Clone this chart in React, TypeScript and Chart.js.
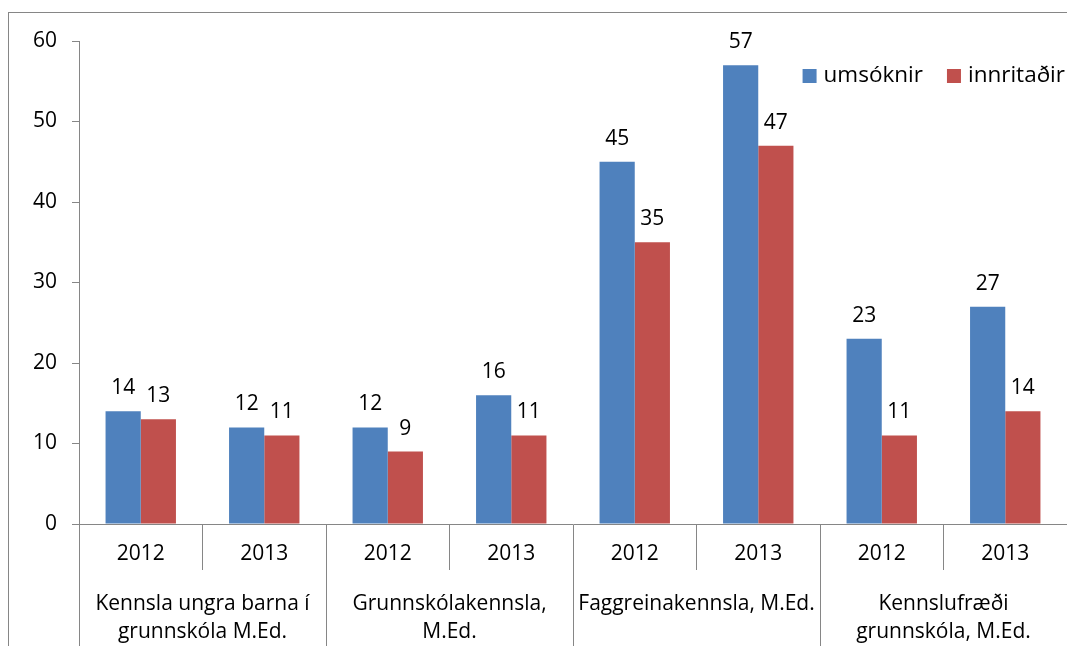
import React, { useEffect, useRef } from "react";
import { Chart, registerables } from "chart.js";

Chart.register(...registerables);

const years = ["2012", "2013", "2012", "2013", "2012", "2013", "2012", "2013"];
const groups: string[][] = [
  ["Kennsla ungra barna í", "grunnskóla M.Ed."],
  ["Grunnskólakennsla,", "M.Ed."],
  ["Faggreinakennsla, M.Ed."],
  ["Kennslufræði", "grunnskóla, M.Ed."],
];
const umsoknir = [14, 12, 12, 16, 45, 57, 23, 27];
const innritadir = [13, 11, 9, 11, 35, 47, 11, 14];
const seriesNames = ["umsóknir", "innritaðir"];
const yTicks = { min: 0, max: 60, step: 10 };

const FONT_FAMILY = "'Open Sans', 'Liberation Sans', sans-serif";
const FONT_SIZE = 21;
const LEGEND_FONT_SIZE = 22.5;
const AXIS_COLOR = "#868686";

const dataLabelPlugin = {
  id: "dataLabels",
  afterDatasetsDraw(chart: any) {
    const ctx = chart.ctx;
    ctx.save();
    ctx.font = `${FONT_SIZE}px ${FONT_FAMILY}`;
    ctx.fillStyle = "#000";
    ctx.textAlign = "center";
    ctx.textBaseline = "middle";
    chart.data.datasets.forEach((ds: any, i: number) => {
      const meta = chart.getDatasetMeta(i);
      meta.data.forEach((el: any, j: number) => {
        ctx.fillText(String(ds.data[j]), el.x, el.y - 23);
      });
    });
    ctx.restore();
  },
};

const legendPlugin = {
  id: "innerLegend",
  afterDraw(chart: any) {
    const ctx = chart.ctx;
    const area = chart.chartArea;
    ctx.save();
    ctx.font = `${LEGEND_FONT_SIZE}px ${FONT_FAMILY}`;
    ctx.textBaseline = "middle";
    ctx.textAlign = "left";
    const box = 14;
    const gap = 7;
    const itemGap = 24;
    const items = chart.data.datasets.map((ds: any) => ({
      label: ds.label,
      color: ds.backgroundColor,
      w: ctx.measureText(ds.label).width,
    }));
    const total =
      items.reduce((s: number, it: any) => s + box + gap + it.w, 0) +
      itemGap * (items.length - 1);
    let x = area.right - 2 - total;
    const cy = area.top + 35;
    items.forEach((it: any) => {
      ctx.fillStyle = it.color;
      ctx.fillRect(x, cy - box / 2, box, box);
      x += box + gap;
      ctx.fillStyle = "#000";
      ctx.fillText(it.label, x, cy);
      x += it.w + itemGap;
    });
    ctx.restore();
  },
};

export default function App() {
  const ref = useRef<HTMLCanvasElement | null>(null);

  useEffect(() => {
    if (!ref.current) return;
    const font = { family: FONT_FAMILY, size: FONT_SIZE };
    const chart = new Chart(ref.current, {
      type: "bar",
      data: {
        labels: years,
        datasets: [
          {
            label: seriesNames[0],
            data: umsoknir,
            backgroundColor: "#4F81BD",
            xAxisID: "x",
            yAxisID: "y",
            categoryPercentage: 0.57,
            barPercentage: 1.0,
          },
          {
            label: seriesNames[1],
            data: innritadir,
            backgroundColor: "#C0504D",
            xAxisID: "x",
            yAxisID: "y",
            categoryPercentage: 0.57,
            barPercentage: 1.0,
          },
        ],
      },
      options: {
        responsive: false,
        animation: false,
        layout: { padding: { top: 28, right: 0, left: 0, bottom: 0 } },
        plugins: {
          legend: { display: false },
          tooltip: { enabled: false },
        },
        scales: {
          y: {
            type: "linear",
            position: "left",
            min: yTicks.min,
            max: yTicks.max,
            ticks: { stepSize: yTicks.step, color: "#000", font, padding: 15 },
            grid: {
              drawOnChartArea: false,
              tickLength: 7,
              color: AXIS_COLOR,
            },
            border: { display: true, color: AXIS_COLOR },
            afterFit: (s: any) => {
              s.width = 70;
            },
          },
          x: {
            type: "category",
            axis: "x",
            position: "bottom",
            weight: 0,
            offset: true,
            grid: {
              offset: true,
              drawOnChartArea: false,
              tickLength: 46,
              color: AXIS_COLOR,
            },
            border: { display: true, color: AXIS_COLOR },
            ticks: {
              color: "#000",
              font,
              padding: -29,
              autoSkip: false,
              maxRotation: 0,
              minRotation: 0,
            },
            afterFit: (s: any) => {
              s.height = 46;
            },
          },
          x2: {
            type: "category",
            axis: "x",
            position: "bottom",
            weight: 1,
            labels: groups as any,
            offset: true,
            grid: {
              offset: true,
              drawOnChartArea: false,
              tickLength: 76,
              color: AXIS_COLOR,
            },
            border: { display: false },
            ticks: {
              color: "#000",
              font: { ...font, lineHeight: 27.5 / 21 },
              padding: -55.5,
              autoSkip: false,
              maxRotation: 0,
              minRotation: 0,
            },
            afterFit: (s: any) => {
              s.height = 76;
            },
          },
        } as any,
      },
      plugins: [dataLabelPlugin, legendPlugin],
    });
    return () => chart.destroy();
  }, []);

  return (
    <div
      style={{
        position: "absolute",
        left: 8,
        top: 12,
        width: 1059,
        height: 634,
        borderLeft: `1px solid ${AXIS_COLOR}`,
        borderTop: `1px solid ${AXIS_COLOR}`,
        boxSizing: "border-box",
        background: "#fff",
        overflow: "hidden",
      }}
    >
      <canvas
        ref={ref}
        width={1058}
        height={633}
        style={{ display: "block", width: 1058, height: 633 }}
      />
    </div>
  );
}
